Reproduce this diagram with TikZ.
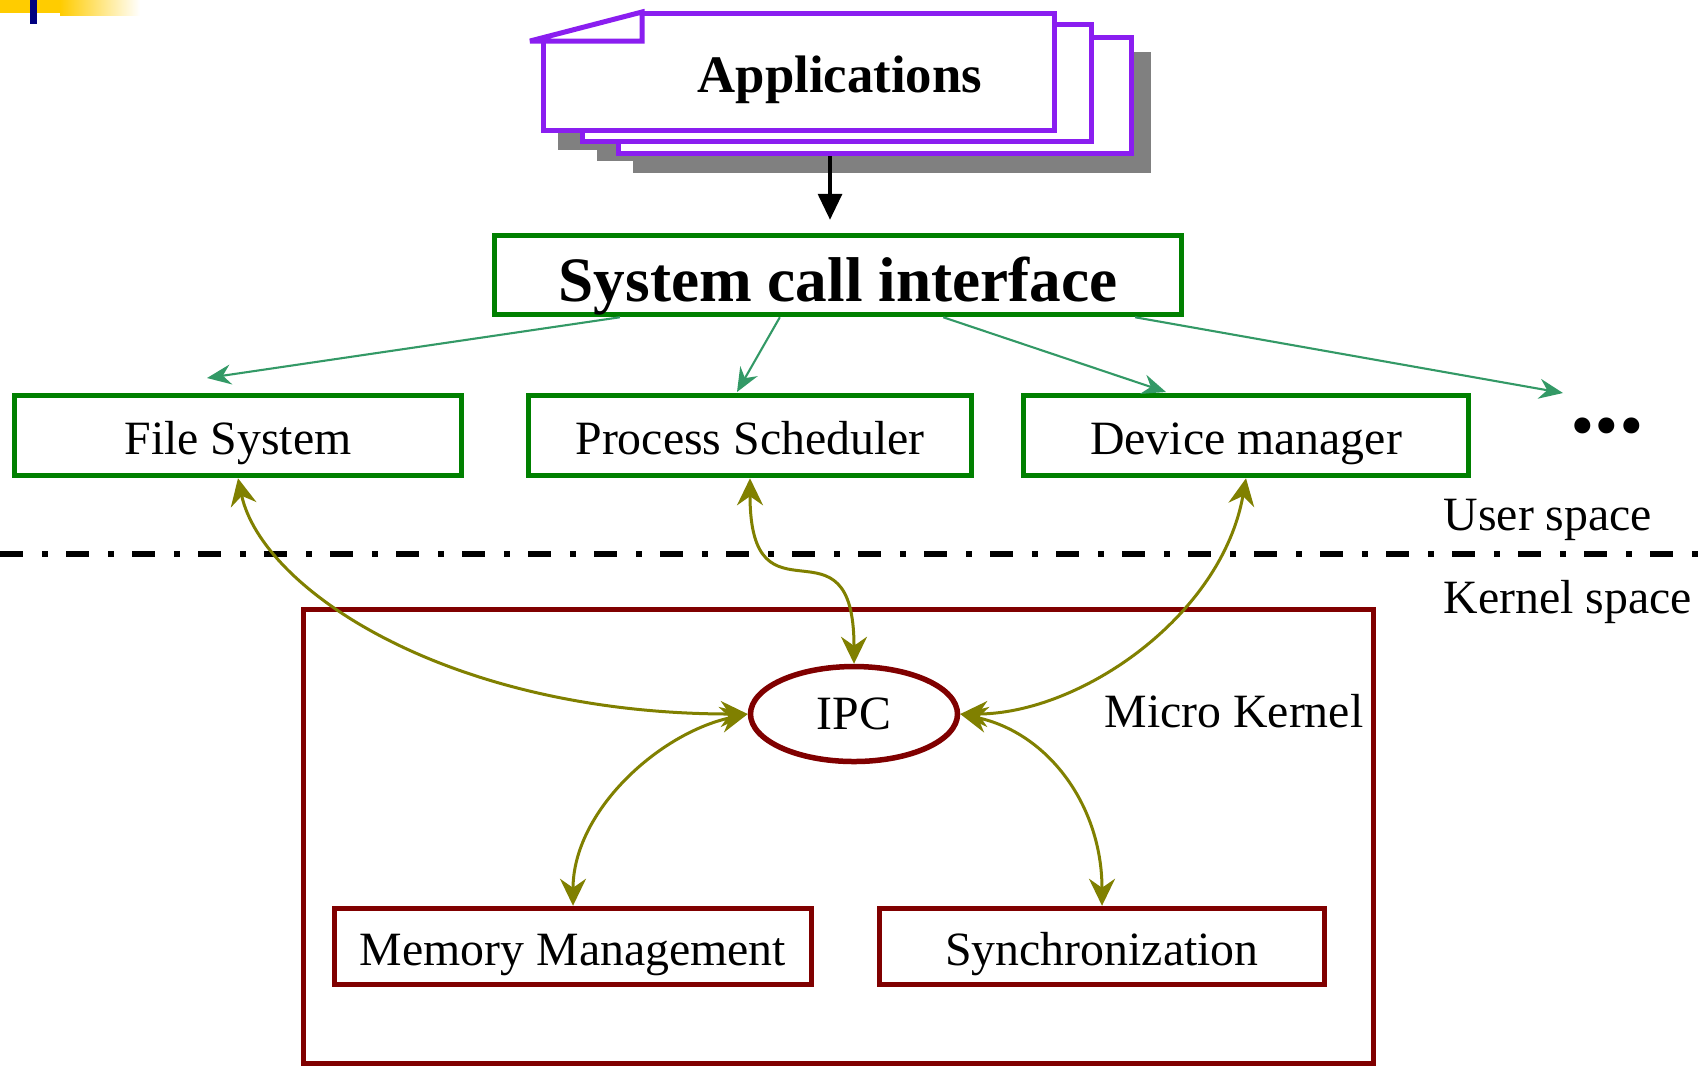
\documentclass[tikz,border=0pt]{standalone}
\usepackage{fontspec}
\setmainfont{Liberation Serif}
\usetikzlibrary{arrows.meta,positioning,calc,shapes.geometric}
\definecolor{mkgreen}{RGB}{0,128,0}
\definecolor{mkred}{RGB}{128,0,0}
\definecolor{mkolive}{RGB}{128,128,0}
\definecolor{mksea}{RGB}{51,153,102}
\definecolor{mkpurple}{RGB}{138,30,240}
\definecolor{mkshadow}{RGB}{128,128,128}
\definecolor{mkyellow}{RGB}{255,204,0}
\definecolor{mknavy}{RGB}{0,0,128}
\tikzset{
  lbl/.style={font=\fontsize{13.6}{16}\selectfont, inner sep=0pt},
  ubox/.style={
    draw=mkgreen, line width=0.055cm, fill=white, align=center,
    inner sep=0pt, minimum height=0.80cm, font=\fontsize{13.6}{16}\selectfont,
    text height=11pt, text depth=0.2pt
  },
  kbox/.style={ubox, draw=mkred, minimum height=0.76cm},
  appbox/.style={draw=mkpurple, line width=0.05cm, line join=miter, miter limit=3},
  appshadow/.style={fill=mkshadow},
  garr/.style={-{Stealth[length=0.24cm,width=0.2cm,inset=0.08cm]}, draw=mksea, line width=0.021cm},
  oarr/.style={
    arrows={Stealth[length=0.27cm,width=0.26cm,inset=0.09cm]-Stealth[length=0.27cm,width=0.26cm,inset=0.09cm]},
    draw=mkolive, line width=0.03cm
  },
  barr/.style={-{Triangle[length=0.26cm,width=0.24cm]}, draw=black, line width=0.034cm},
  divider/.style={line width=0.055cm, dash pattern=on 0.23cm off 0.19cm on 0.06cm off 0.18cm}
}
\begin{document}
\begin{tikzpicture}
  \path[fill=white] (0,0) rectangle (17.07,-10.67);
  \useasboundingbox (0,0) rectangle (17.07,-10.67);
  % corner mark
  \fill[mkyellow] (0,0) rectangle (0.60,-0.13);
  \shade[left color=mkyellow, right color=white] (0.60,0) rectangle (1.40,-0.15);
  \fill[mknavy] (0.30,0) rectangle (0.37,-0.24);
  % applications stack
  \foreach \xa/\ya/\xb/\yb in {5.41/0.11/10.57/1.33, 5.80/0.22/10.94/1.44, 6.16/0.35/11.34/1.56}
    \fill[appshadow] (\xa+0.17,-\ya-0.17) rectangle (\xb+0.17,-\yb-0.17);
  \draw[appbox, fill=white] (6.185,-0.375) rectangle (11.315,-1.535);
  \draw[appbox, fill=white] (5.825,-0.245) rectangle (10.915,-1.415);
  \fill[white] (5.41,-0.11) rectangle (10.57,-1.33);
  \draw[appbox] (6.42,-0.135) -- (10.545,-0.135) -- (10.545,-1.305)
    -- (5.435,-1.305) -- (5.435,-0.41);
  \draw[appbox] (5.30,-0.41) -- (6.42,-0.12) -- (6.42,-0.41) -- cycle;
  \node[font=\fontsize{15}{18}\selectfont\bfseries] (apps) at (8.40,-0.80) {Applications};
  % user space
  \node[ubox, minimum width=6.87cm, minimum height=0.79cm,
    font=\fontsize{18}{22}\selectfont\bfseries, text height=15pt] (sci) at (8.38,-2.75) {System call interface};
  \node[ubox, minimum width=4.47cm] (fs) at (2.38,-4.355) {File System};
  \node[ubox, minimum width=4.43cm] (ps) at (7.50,-4.355) {Process Scheduler};
  \node[ubox, minimum width=4.45cm] (dm) at (12.46,-4.355) {Device manager};
  \node[font=\fontsize{28}{28}\selectfont\bfseries, inner sep=0pt, anchor=base] (more) at (16.07,-4.32) {...};
  \coordinate (appout) at (8.30,-1.56);
  \draw[barr, shorten >=0.13cm] (appout) -- (appout |- sci.north);
  \coordinate (fsin) at (2.07,-3.78);
  \coordinate (psin) at (7.37,-3.92);
  \coordinate (dmin) at (11.66,-3.92);
  \coordinate (morein) at (15.63,-3.93);
  \foreach \t/\c in {0.185/fsin, 0.416/psin, 0.652/dmin, 0.929/morein}
    \draw[garr] ($(sci.south west)!\t!(sci.south east)$) -- (\c);
  % boundary
  \coordinate (divl) at (0,-5.54);
  \coordinate (divr) at (17.07,-5.54);
  \draw[divider] (divl) -- (divr);
  \node[lbl, anchor=base west] (user) at (14.43,-5.30) {User space};
  \node[lbl, anchor=base west] (kern) at (14.43,-6.13) {Kernel space};
  % kernel
  \node[draw=mkred, line width=0.055cm, minimum width=10.70cm, minimum height=4.54cm,
    inner sep=0pt] (kernel) at (8.385,-8.365) {};
  \node[lbl, anchor=base east] (mklbl) at (13.64,-7.27) {Micro Kernel};
  \node[lbl, ellipse, draw=mkred, line width=0.055cm, fill=white,
    minimum width=2.07cm, minimum height=0.95cm] (ipc) at (8.54,-7.14) {IPC};
  \node[kbox, minimum width=4.77cm] (mm) at (5.73,-9.465) {Memory Management};
  \node[kbox, minimum width=4.45cm] (sync) at (11.02,-9.465) {Synchronization};
  % messages
  \draw[oarr] (fs.south) .. controls +(-78:1.13) and +(180:3.0) .. (ipc.west);
  \draw[oarr] (ps.south) .. controls +(-90:1.57) and +(90:1.57) .. (ipc.north);
  \draw[oarr] (dm.south) .. controls +(-100:1.40) and +(0:1.20) .. (ipc.east);
  \draw[oarr] (ipc.west) .. controls +(192:0.90) and +(90:0.95) .. (mm.north);
  \draw[oarr] (ipc.east) .. controls +(-12:0.90) and +(90:1.00) .. (sync.north);
\end{tikzpicture}
\end{document}
